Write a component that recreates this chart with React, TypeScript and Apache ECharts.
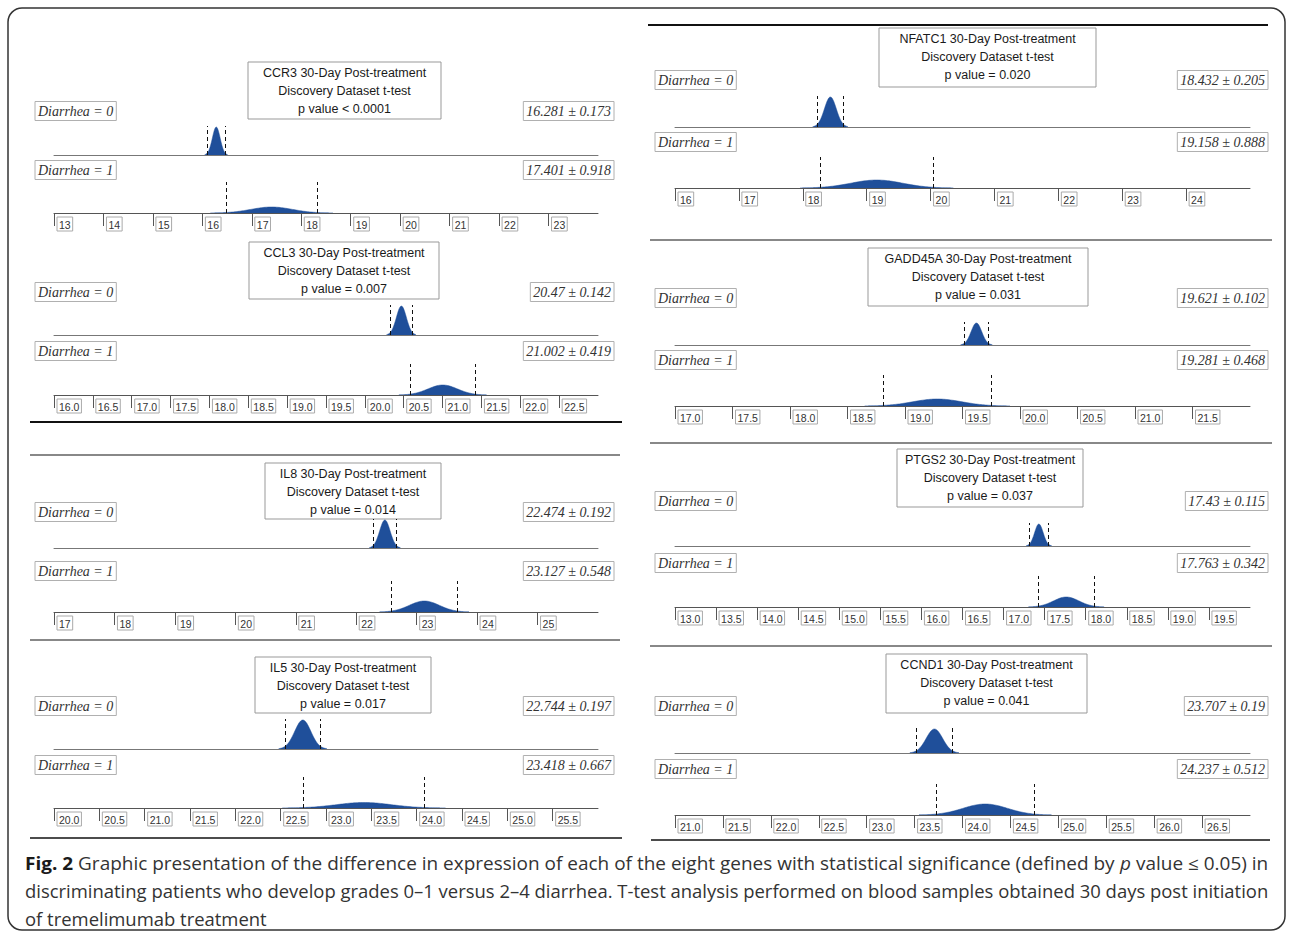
import React, { useEffect, useRef } from 'react';
import * as echarts from 'echarts';

// ---------- data ----------
const genes = ['CCR3', 'CCL3', 'IL8', 'IL5', 'NFATC1', 'GADD45A', 'PTGS2', 'CCND1'];
const pValueText = ['< 0.0001', '= 0.007', '= 0.014', '= 0.017', '= 0.020', '= 0.031', '= 0.037', '= 0.041'];
const mean0 = [16.281, 20.47, 22.474, 22.744, 18.432, 19.621, 17.43, 23.707];
const sd0 = [0.173, 0.142, 0.192, 0.197, 0.205, 0.102, 0.115, 0.19];
const mean1 = [17.401, 21.002, 23.127, 23.418, 19.158, 19.281, 17.763, 24.237];
const sd1 = [0.918, 0.419, 0.548, 0.667, 0.888, 0.468, 0.342, 0.512];
// relative curve heights
const peak0 = [28, 29, 28, 29, 30, 22, 22, 24];
const peak1 = [6, 10, 11, 5.5, 8, 7, 10, 11];
const axisMin = [13, 16, 17, 20, 16, 17, 13, 21];
const axisMax = [24, 23, 26, 26, 25, 22, 20, 27];
const axisStep = [1, 0.5, 1, 0.5, 1, 0.5, 0.5, 0.5];
const groupLabels = ['Diarrhea = 0', 'Diarrhea = 1'];
const captionParts: [string, string][][] = [
  [
    ['b', 'Fig. 2'],
    ['n', ' Graphic presentation of the difference in expression of each of the eight genes with statistical significance (defined by '],
    ['i', 'p'],
    ['n', ' value ≤ 0.05) in'],
  ],
  [['n', 'discriminating patients who develop grades 0–1 versus 2–4 diarrhea. T-test analysis performed on blood samples obtained 30 days post initiation']],
  [['n', 'of tremelimumab treatment']],
];

// ---------- layout ----------
const L_COL = { x0: 54, x1: 598, lx: 35, rx: 614 };
const R_COL = { x0: 675, x1: 1250, lx: 655, rx: 1268 };
const layout = [
  { c: L_COL, tL: 248, tR: 441, tT: 62, tB: 119, l0: 111, b0: 155, l1: 170, ax: 213 },
  { c: L_COL, tL: 249, tR: 439, tT: 242, tB: 299, l0: 292, b0: 335, l1: 351, ax: 395 },
  { c: L_COL, tL: 265, tR: 441, tT: 463, tB: 519, l0: 512, b0: 548, l1: 571, ax: 612 },
  { c: L_COL, tL: 255, tR: 431, tT: 657, tB: 713, l0: 706, b0: 749, l1: 765, ax: 808 },
  { c: R_COL, tL: 879, tR: 1096, tT: 28, tB: 87, l0: 80, b0: 127, l1: 142, ax: 188 },
  { c: R_COL, tL: 868, tR: 1088, tT: 248, tB: 306, l0: 298, b0: 345, l1: 360, ax: 406 },
  { c: R_COL, tL: 897, tR: 1083, tT: 449, tB: 507, l0: 501, b0: 546, l1: 563, ax: 607 },
  { c: R_COL, tL: 886, tR: 1087, tT: 654, tB: 713, l0: 706, b0: 753, l1: 769, ax: 815 },
];
const separators = [
  { x1: 30, x2: 622, y: 422, c: '#111', w: 2 },
  { x1: 30, x2: 620, y: 455, c: '#888', w: 2 },
  { x1: 30, x2: 620, y: 640, c: '#888', w: 2 },
  { x1: 30, x2: 622, y: 838, c: '#111', w: 1.5 },
  { x1: 648, x2: 1268, y: 25, c: '#111', w: 2 },
  { x1: 650, x2: 1272, y: 240, c: '#888', w: 2 },
  { x1: 650, x2: 1272, y: 443, c: '#888', w: 2 },
  { x1: 650, x2: 1272, y: 646, c: '#888', w: 2 },
  { x1: 651, x2: 1270, y: 840, c: '#111', w: 1.5 },
];
const captionTargets = [1243, 1245, 0];

const BLUE = '#1f4f9a';
const SANS = "'Liberation Sans', Arial, sans-serif";
const SERIF = "'Liberation Serif', 'Times New Roman', serif";
const CAP = "'Open Sans', sans-serif";
const CAP_SIZE = 17.5;
const ROW_H = 34;

function measure(text: string, font: string) {
  const cv = document.createElement('canvas');
  const ctx = cv.getContext('2d');
  if (!ctx) return text.length * 8;
  ctx.font = font;
  return ctx.measureText(text).width;
}

export default function App() {
  const ref = useRef<HTMLDivElement>(null);
  useEffect(() => {
    if (!ref.current) return;
    const chart = echarts.init(ref.current, undefined, { renderer: 'svg' });

    const grid: any[] = [];
    const xAxis: any[] = [];
    const yAxis: any[] = [];
    const series: any[] = [];
    const graphic: any[] = [];

    genes.forEach((g, p) => {
      const L = layout[p];
      [0, 1].forEach((r) => {
        const idx = p * 2 + r;
        const bottomY = r === 0 ? L.b0 : L.ax;
        grid.push({ left: L.c.x0, top: bottomY - ROW_H, width: L.c.x1 - L.c.x0, height: ROW_H });
        const dec = axisStep[p] < 1;
        xAxis.push({
          type: 'value',
          gridIndex: idx,
          min: axisMin[p],
          max: axisMax[p],
          interval: axisStep[p],
          axisLine: { show: true, onZero: false, lineStyle: { color: r ? '#555' : '#777', width: 1 } },
          axisTick: { show: r === 1, length: 13, lineStyle: { color: '#555' } },
          splitLine: { show: false },
          axisLabel: r === 1
            ? {
                show: true,
                showMaxLabel: false,
                showMinLabel: true,
                align: 'left',
                margin: 4,
                padding: [0, 0, 0, 3],
                formatter: (v: number) => `{b|${dec ? v.toFixed(1) : String(v)}}`,
                rich: {
                  b: {
                    fontFamily: SANS,
                    fontSize: 10.5,
                    color: '#333',
                    borderColor: '#aaa',
                    borderWidth: 1,
                    padding: [2, 2, 1, 2],
                  },
                },
              }
            : { show: false },
        });
        yAxis.push({ type: 'value', gridIndex: idx, min: 0, max: ROW_H, show: false });
        const m = r ? mean1[p] : mean0[p];
        const s = r ? sd1[p] : sd0[p];
        const pk = r ? peak1[p] : peak0[p];
        const dh = r ? 31 : pk + 1;
        const sig = s / 2.2;
        const pts: number[][] = [];
        for (let k = 0; k <= 100; k++) {
          const x = m - 1.35 * s + (2.7 * s * k) / 100;
          pts.push([x, pk * Math.exp(-0.5 * ((x - m) / sig) ** 2)]);
        }
        series.push({
          type: 'line',
          xAxisIndex: idx,
          yAxisIndex: idx,
          data: pts,
          symbol: 'none',
          showSymbol: false,
          silent: true,
          lineStyle: { width: 0.5, color: BLUE },
          areaStyle: { color: BLUE, opacity: 1 },
          markLine: {
            symbol: ['none', 'none'],
            silent: true,
            label: { show: false },
            lineStyle: { type: [4, 3], color: '#111', width: 1 },
            data: [
              [{ coord: [m - s, 0] }, { coord: [m - s, dh] }],
              [{ coord: [m + s, 0] }, { coord: [m + s, dh] }],
            ],
          },
        });
        const ly = r ? L.l1 : L.l0;
        const boxStyle = {
          fontFamily: SERIF,
          fontStyle: 'italic',
          fontSize: 14,
          fill: '#333',
          verticalAlign: 'middle',
          borderColor: '#b0b0b0',
          borderWidth: 1,
          padding: [3, 3, 2, 3],
        };
        graphic.push({
          type: 'text',
          x: L.c.lx,
          y: ly,
          style: { ...boxStyle, text: groupLabels[r], align: 'left' },
        });
        graphic.push({
          type: 'text',
          x: L.c.rx,
          y: ly,
          style: { ...boxStyle, text: `${String(m)} ± ${String(s)}`, align: 'right' },
        });
      });
      graphic.push({
        type: 'rect',
        shape: { x: L.tL, y: L.tT, width: L.tR - L.tL, height: L.tB - L.tT },
        style: { fill: '#fff', stroke: '#999', lineWidth: 1 },
      });
      graphic.push({
        type: 'text',
        x: (L.tL + L.tR) / 2,
        y: L.tT + 2,
        style: {
          text: `${g} 30-Day Post-treatment\nDiscovery Dataset t-test\np value ${pValueText[p]}`,
          fontFamily: SANS,
          fontSize: 12.5,
          lineHeight: 18,
          fill: '#1a1a1a',
          align: 'center',
          verticalAlign: 'top',
        },
      });
    });

    separators.forEach((s) => {
      graphic.push({
        type: 'line',
        shape: { x1: s.x1, y1: s.y, x2: s.x2, y2: s.y },
        style: { stroke: s.c, lineWidth: s.w },
      });
    });

    graphic.push({
      type: 'rect',
      shape: { x: 8, y: 8, width: 1277, height: 922, r: 14 },
      style: { fill: 'none', stroke: '#333', lineWidth: 1.5 },
    });

    // caption, each line horizontally fitted to the reference's justified width
    let lastScale = 1;
    captionParts.forEach((parts, i) => {
      let w = 0;
      parts.forEach(([k, t]) => {
        const f = `${k === 'b' ? 'bold ' : k === 'i' ? 'italic ' : ''}${CAP_SIZE}px ${CAP}`;
        w += measure(t, f);
      });
      const sc = captionTargets[i] > 0 ? captionTargets[i] / w : lastScale;
      lastScale = sc;
      const text = parts.map(([k, t]) => (k === 'n' ? t : `{${k}|${t}}`)).join('');
      graphic.push({
        type: 'text',
        x: 25,
        y: 863 + i * 28,
        scaleX: sc,
        style: {
          text,
          fontFamily: CAP,
          fontSize: CAP_SIZE,
          fill: '#333',
          verticalAlign: 'middle',
          align: 'left',
          rich: {
            b: { fontFamily: CAP, fontSize: CAP_SIZE, fontWeight: 'bold', fill: '#1a1a1a' },
            i: { fontFamily: CAP, fontSize: CAP_SIZE, fontStyle: 'italic', fill: '#333' },
          },
        },
      });
    });

    chart.setOption({
      animation: false,
      backgroundColor: '#fff',
      grid,
      xAxis,
      yAxis,
      series,
      graphic: { elements: graphic },
    });
    return () => chart.dispose();
  }, []);

  return (
    <div
      ref={ref}
      style={{ position: 'fixed', left: 0, top: 0, width: 1292, height: 938, background: '#fff' }}
    />
  );
}
